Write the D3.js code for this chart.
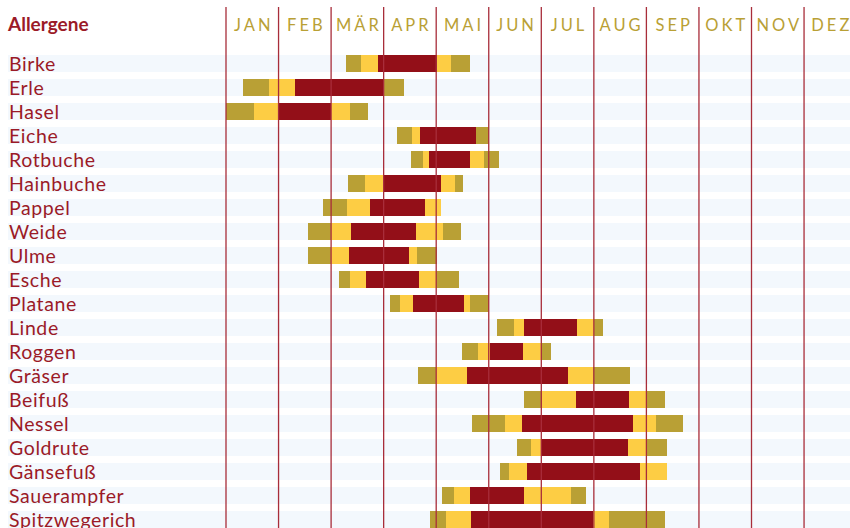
<!DOCTYPE html>
<html>
<head>
<meta charset="utf-8">
<script src="https://cdn.jsdelivr.net/npm/d3@7"></script>
<style>
  body { margin: 0; background: #fff; }
  svg { display: block; }
</style>
</head>
<body>
<div id="chart"></div>
<script>
// Pollenflugkalender
const allergene = ["Birke", "Erle", "Hasel", "Eiche", "Rotbuche", "Hainbuche", "Pappel", "Weide", "Ulme", "Esche",
    "Platane", "Linde", "Roggen", "Gräser", "Beifuß", "Nessel", "Goldrute", "Gänsefuß", "Sauerampfer", "Spitzwegerich"]

const monate = ["JAN", "FEB", "MÄR", "APR", "MAI", "JUN", "JUL", "AUG", "SEP", "OKT", "NOV", "DEZ"]

// Zeitpunkte in Monaten ab 1. Januar (0 = Anfang Jan, 12 = Ende Dez)
const beginn    = [2.28, 0.32, 0.00, 3.25, 3.52, 2.32, 1.85, 1.56, 1.56, 2.15, 3.12, 5.16, 4.49, 3.65, 5.67, 4.68, 5.54, 5.21, 4.11, 3.88]
const mittelAb  = [2.57, 0.82, 0.54, 3.54, 3.75, 2.65, 2.30, 2.00, 2.00, 2.36, 3.31, 5.48, 4.80, 4.00, 6.01, 5.31, 5.80, 5.39, 4.34, 4.19]
const starkAb   = [2.89, 1.31, 0.99, 3.69, 3.86, 2.99, 2.74, 2.38, 2.34, 2.66, 3.56, 5.67, 5.02, 4.59, 6.66, 5.63, 5.99, 5.73, 4.64, 4.66]
const starkBis  = [4.01, 3.00, 2.00, 4.76, 4.64, 4.09, 3.79, 3.62, 3.48, 3.67, 4.53, 6.68, 5.65, 6.51, 7.67, 7.74, 7.65, 7.88, 5.67, 6.98]
const mittelBis = [4.28, 3.00, 2.36, 4.76, 4.91, 4.36, 4.09, 4.13, 3.63, 4.00, 4.64, 7.00, 5.99, 6.98, 8.01, 8.18, 8.01, 8.39, 6.57, 7.29]
const ende      = [4.64, 3.38, 2.70, 5.00, 5.20, 4.51, 4.09, 4.47, 4.02, 4.43, 5.00, 7.17, 6.18, 7.69, 8.35, 8.70, 8.39, 8.39, 6.85, 8.35]

const farben = { gering: "#b9a035", mittel: "#fdcd44", stark: "#930f18" }

var width = 850, height = 528

var svg = d3.select("#chart")
    .append("svg")
    .attr("width", width)
    .attr("height", height)

var x = d3.scaleLinear()
    .domain([0, 12])
    .range([226, 226 + 52.55 * 12])

var y = d3.scaleBand()
    .domain(allergene)
    .range([55, 528])
    .paddingInner(7 / 24)
    .paddingOuter(0)

// hellblaue Zeilenstreifen
svg.append("g")
    .selectAll("rect")
    .data(allergene)
    .enter()
    .append("rect")
    .attr("x", 8)
    .attr("width", width - 8)
    .attr("y", function(d) { return y(d) })
    .attr("height", y.bandwidth())
    .attr("fill", "#f3f8fd")

// Segmente je Allergen: gering, mittel, stark, mittel, gering
var segmente = []
allergene.forEach(function(a, i) {
    var b = [beginn[i], mittelAb[i], starkAb[i], starkBis[i], mittelBis[i], ende[i]]
    var stufen = ["gering", "mittel", "stark", "mittel", "gering"]
    for (var k = 0; k < 5; k++) {
        if (b[k + 1] > b[k]) segmente.push({ name: a, von: b[k], bis: b[k + 1], stufe: stufen[k] })
    }
})

svg.append("g")
    .selectAll("rect")
    .data(segmente)
    .enter()
    .append("rect")
    .attr("x", function(d) { return x(d.von) })
    .attr("width", function(d) { return x(d.bis) - x(d.von) })
    .attr("y", function(d) { return y(d.name) })
    .attr("height", y.bandwidth())
    .attr("fill", function(d) { return farben[d.stufe] })
    .attr("shape-rendering", "crispEdges")

// Monatslinien
svg.append("g")
    .selectAll("line")
    .data(d3.range(12))
    .enter()
    .append("line")
    .attr("x1", function(d) { return x(d) })
    .attr("x2", function(d) { return x(d) })
    .attr("y1", 7)
    .attr("y2", height)
    .attr("stroke", "#a82d3a")
    .attr("stroke-width", 1.3)

// Monatsnamen
svg.append("g")
    .selectAll("text")
    .data(monate)
    .enter()
    .append("text")
    .attr("x", function(d, i) { return x(i + 0.5) + 1.5 })
    .attr("y", 31)
    .attr("text-anchor", "middle")
    .attr("font-family", "Lato, sans-serif")
    .attr("font-size", 16.5)
    .attr("letter-spacing", 3)
    .attr("fill", "#b9a035")
    .text(function(d) { return d })

svg.append("text")
    .attr("x", 8)
    .attr("y", 31)
    .attr("font-family", "Lato, sans-serif")
    .attr("font-weight", "bold")
    .attr("font-size", 19)
    .attr("fill", "#9b1a27")
    .text("Allergene")

svg.append("g")
    .selectAll("text")
    .data(allergene)
    .enter()
    .append("text")
    .attr("x", 9)
    .attr("y", function(d) { return y(d) + y.bandwidth() - 1.5 })
    .attr("font-family", "Lato, sans-serif")
    .attr("font-size", 19.5)
    .attr("letter-spacing", 0.6)
    .attr("fill", "#9b1a27")
    .text(function(d) { return d })
</script>
</body>
</html>
